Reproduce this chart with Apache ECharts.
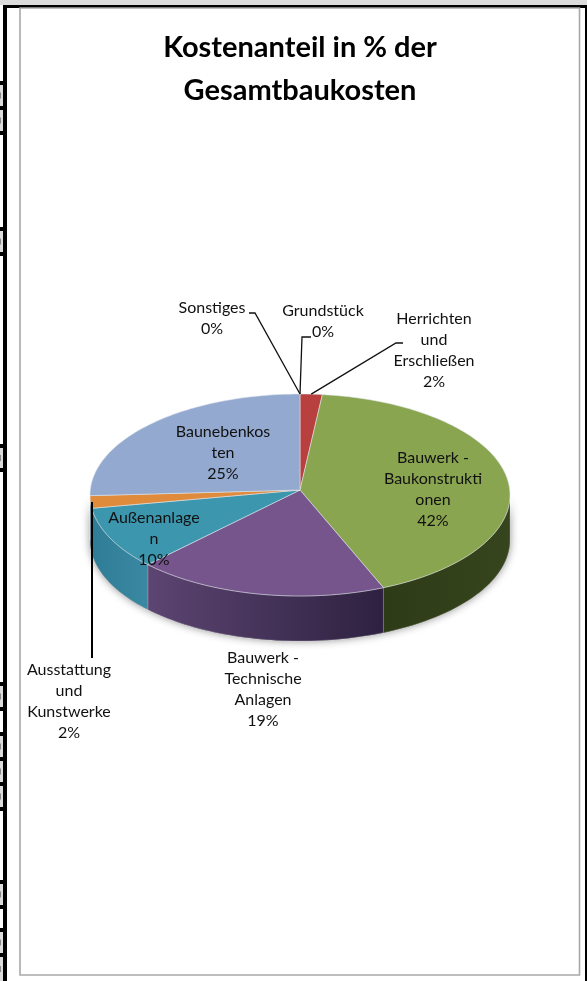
<!DOCTYPE html>
<html>
<head>
<meta charset="utf-8">
<title>Kostenanteil</title>
<style>
  html, body { margin: 0; padding: 0; background: #fff; }
  #chart { width: 587px; height: 981px; }
</style>
<script src="https://cdn.jsdelivr.net/npm/echarts@6/dist/echarts.min.js"></script>
</head>
<body>
<div id="chart"></div>
<script>
var categories = ['Sonstiges', 'Grundstück', 'Herrichten und Erschließen', 'Bauwerk - Baukonstruktionen',
  'Bauwerk - Technische Anlagen', 'Außenanlagen', 'Ausstattung und Kunstwerke', 'Baunebenkosten']
var values = [0, 0, 1.7, 41.8, 19.4, 10, 2, 25.1]
var wrapped = ['Sonstiges', 'Grundstück', 'Herrichten\nund\nErschließen', 'Bauwerk -\nBaukonstrukti\nonen',
  'Bauwerk -\nTechnische\nAnlagen', 'Außenanlage\nn', 'Ausstattung\nund\nKunstwerke', 'Baunebenkos\nten']
var topColors = ['#a5a5a5', '#4f81bd', '#b8403e', '#8aa550', '#75558c', '#3c96ae', '#e08a3c', '#93a9cf']
var wallColors = [
  ['#777', '#777'], ['#456', '#456'], ['#7a2a28', '#7a2a28'], ['#2e3b17', '#36451d'],
  ['#5c4572', '#2e2140'], ['#2f7c96', '#3b88a3'], ['#4a5a60', '#2f7c96'], ['#6b7d9c', '#6b7d9c']
]
// label centres and leader elbows, in px
var labelXY = [[212, 318.5], [323, 321.5], [434, 350], [433, 489.5], [263, 689], [154, 538.5], [69, 701], [223, 453]]
var leaderXY = [
  [[249, 313], [255, 313]],
  [[311, 337], [302, 337]],
  [[403, 343], [396, 343]],
  null, null, null,
  [[92, 658]],
  null
]
// leftover table cells on the left edge: [top, bottom]
var grayCells = [[85, 106], [110, 131], [231, 252], [448, 468], [686, 707], [736, 757], [761, 782], [786, 807], [884, 905], [932, 953], [957, 981]]

var cx = 300, cy = 495, apexY = 490, rx = 210, ry = 101, depth = 45
var total = values.reduce(function (a, b) { return a + b }, 0)

function rim(frac, dy) {
  var a = frac * Math.PI * 2
  return [cx + rx * Math.sin(a), cy - ry * Math.cos(a) + (dy || 0)]
}

function arc(from, to, dy) {
  var pts = []
  var n = Math.max(2, Math.ceil((to - from) * 240))
  for (var i = 0; i <= n; i++) {
    pts.push(rim(from + (to - from) * i / n, dy))
  }
  return pts
}

var rows = []
var acc = 0
for (var i = 0; i < values.length; i++) {
  rows.push([acc / total, (acc + values[i]) / total, i])
  acc += values[i]
}

function renderSlice(params, api) {
  var from = api.value(0), to = api.value(1), idx = api.value(2)
  var children = []

  // front wall, only the part between 3 and 9 o'clock shows
  var wFrom = Math.max(from, 0.25), wTo = Math.min(to, 0.75)
  if (wTo > wFrom) {
    var wall = arc(wFrom, wTo, 0).concat(arc(wFrom, wTo, depth).reverse())
    children.push({
      type: 'polygon', z2: 1,
      shape: { points: wall },
      style: { fill: '#555', shadowBlur: 9, shadowColor: 'rgba(0,0,0,0.45)' }
    })
    children.push({
      type: 'polygon', z2: 2,
      shape: { points: wall },
      style: {
        fill: {
          type: 'linear', x: 0, y: 0, x2: 1, y2: 0,
          colorStops: [{ offset: 0, color: wallColors[idx][0] }, { offset: 1, color: wallColors[idx][1] }]
        },
        stroke: 'rgba(255,255,255,0.35)', lineWidth: 0.6
      }
    })
  }

  // top face
  if (to > from) {
    children.push({
      type: 'polygon', z2: 3,
      shape: { points: [[cx, apexY]].concat(arc(from, to, 0)) },
      style: { fill: topColors[idx], stroke: 'rgba(225,230,235,0.7)', lineWidth: 0.8 }
    })
  }

  // leader line from the slice edge out to the label
  if (leaderXY[idx]) {
    var end = rim((from + to) / 2, 0)
    if (idx === 6) {
      // this one runs straight down
      end[0] = leaderXY[idx][0][0]
    }
    children.push({
      type: 'polyline', z2: 4,
      shape: { points: leaderXY[idx].concat([end]) },
      style: { fill: null, stroke: idx === 6 ? '#000' : '#111', lineWidth: idx === 6 ? 2 : 1.3 }
    })
  }

  // label
  children.push({
    type: 'text', z2: 5,
    x: labelXY[idx][0], y: labelXY[idx][1],
    style: {
      text: wrapped[idx] + '\n' + Math.round(values[idx]) + '%',
      font: '16px Lato',
      lineHeight: 21,
      fill: '#111',
      align: 'center',
      verticalAlign: 'middle'
    }
  })
  return { type: 'group', children: children }
}

// page furniture around the chart: table remains and chart border
var frame = [
  { type: 'rect', shape: { x: 0, y: 0, width: 587, height: 5 }, style: { fill: '#dcdcdc' } },
  { type: 'rect', shape: { x: 3, y: 5, width: 584, height: 3 }, style: { fill: '#000' } },
  { type: 'rect', shape: { x: 3, y: 5, width: 4, height: 976 }, style: { fill: '#000' } },
  { type: 'rect', shape: { x: 585, y: 5, width: 2, height: 976 }, style: { fill: '#000' } },
  { type: 'rect', shape: { x: 20, y: 8, width: 559.5, height: 967 }, style: { fill: '#fff', stroke: '#a9a9a9', lineWidth: 1.6 } }
]
grayCells.forEach(function (c) {
  frame.push({ type: 'rect', shape: { x: 0, y: c[0] - 4, width: 3, height: c[1] - c[0] + 8 }, style: { fill: '#000' } })
  frame.push({ type: 'rect', shape: { x: 0, y: c[0], width: 3, height: c[1] - c[0] }, style: { fill: '#dcdcdc' } })
  frame.push({ type: 'rect', shape: { x: 0, y: (c[0] + c[1]) / 2 - 3, width: 1, height: 6 }, style: { fill: '#888' } })
})

var myChart = echarts.init(document.getElementById('chart'), null, { renderer: 'canvas' })
myChart.setOption({
  animation: false,
  backgroundColor: '#fff',
  graphic: { elements: frame },
  title: {
    text: 'Kostenanteil in % der\nGesamtbaukosten',
    left: 295,
    top: 21,
    textAlign: 'center',
    textStyle: { fontFamily: 'Lato', fontWeight: 'bold', fontSize: 29, lineHeight: 43, color: '#000' },
    z: 10
  },
  series: [{
    type: 'custom',
    coordinateSystem: 'none',
    renderItem: renderSlice,
    data: rows,
    silent: true,
    z: 5
  }]
})
window.addEventListener('resize', function () {
  myChart.resize()
})
</script>
</body>
</html>
